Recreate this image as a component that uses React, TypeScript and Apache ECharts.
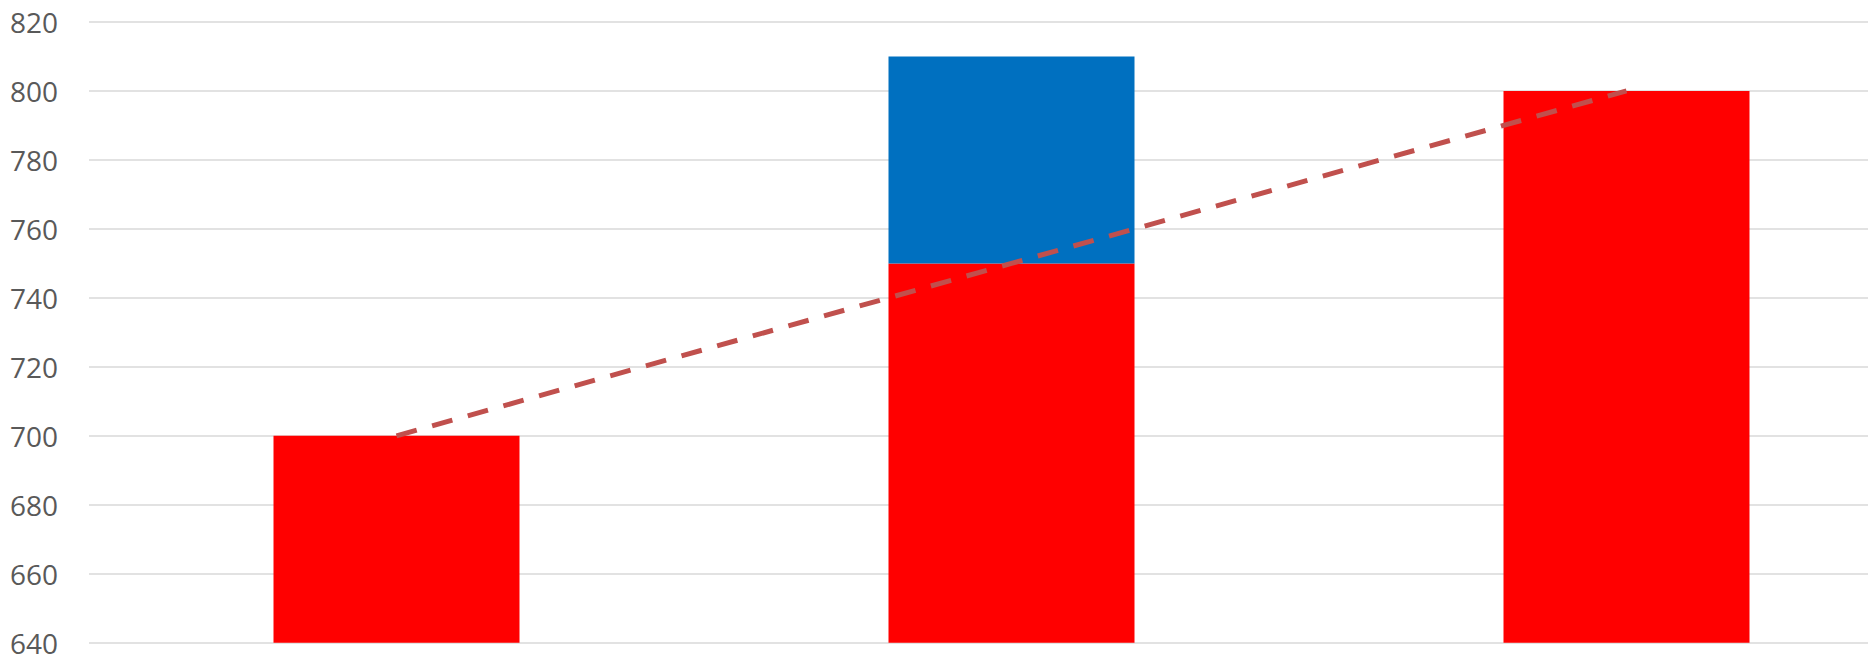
import React, { useEffect, useRef } from "react";
import * as echarts from "echarts";

// Chart data
const categories = ["A", "B", "C"];
const baseValues = [700, 750, 800];
const increaseValues: (number | null)[] = [null, 60, null];
const trendValues = [700, 750, 800];
const yTicks = { min: 640, max: 820, interval: 20 };

export default function App() {
  const ref = useRef<HTMLDivElement>(null);

  useEffect(() => {
    if (!ref.current) return;
    const chart = echarts.init(ref.current, undefined, { renderer: "svg" });
    chart.setOption({
      animation: false,
      backgroundColor: "#ffffff",
      grid: {
        left: 89,
        right: 6,
        top: 22,
        bottom: 12.3,
        containLabel: false,
        outerBoundsMode: "none",
      },
      xAxis: {
        type: "category",
        data: categories,
        axisLine: { show: false },
        axisTick: { show: false },
        axisLabel: { show: false },
        splitLine: { show: false },
      },
      yAxis: {
        type: "value",
        min: yTicks.min,
        max: yTicks.max,
        interval: yTicks.interval,
        axisLine: { show: false },
        axisTick: { show: false },
        axisLabel: {
          color: "#595959",
          fontSize: 28,
          fontFamily: "Open Sans",
          margin: 31,
        },
        splitLine: { lineStyle: { color: "#D9D9D9", width: 1.5 } },
      },
      series: [
        {
          type: "bar",
          stack: "total",
          data: baseValues,
          barWidth: "40%",
          itemStyle: { color: "#FF0000" },
        },
        {
          type: "bar",
          stack: "total",
          data: increaseValues,
          barWidth: "40%",
          itemStyle: { color: "#0070C0" },
        },
        {
          type: "line",
          data: trendValues,
          showSymbol: false,
          z: 5,
          lineStyle: {
            color: "#C0504D",
            width: 5,
            type: [21, 16],
            cap: "butt",
          },
        },
      ],
    });
    return () => chart.dispose();
  }, []);

  return (
    <div
      style={{
        position: "fixed",
        left: 0,
        top: 0,
        width: 1868,
        height: 655,
        overflow: "hidden",
        background: "#ffffff",
      }}
    >
      <div ref={ref} style={{ width: 1940, height: 655 }} />
    </div>
  );
}
